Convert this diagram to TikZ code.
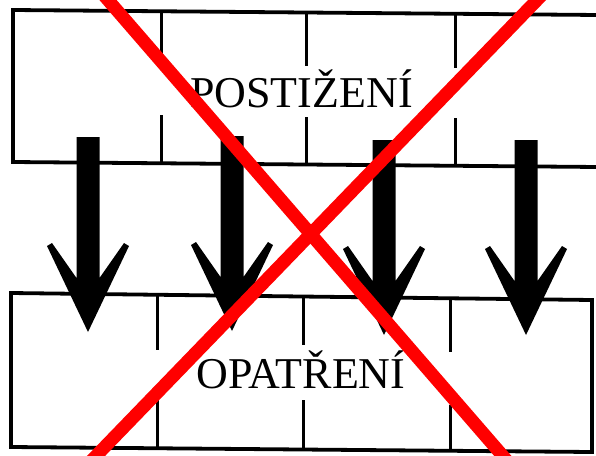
\documentclass[tikz,border=0pt]{standalone}
\usepackage{fontspec}
\setmainfont{Liberation Serif}
\begin{document}
\begin{tikzpicture}[x=1pt,y=-1pt,
  wall/.style={line width=3.8pt, black, line join=miter},
  joint/.style={line width=3pt, black},
  walltext/.style={font=\fontsize{44}{48}\selectfont, anchor=base, inner sep=0pt},
  cross/.style={line width=13pt, red},
  downarrow/.pic={\fill[black] (-11.5,-195) -- (-11.5,-54) -- (-36,-89) -- (-41,-86) -- (0,0)
     -- (41,-86) -- (36,-89) -- (11.5,-54) -- (11.5,-195) -- cycle;}]
\useasboundingbox (0,0) rectangle (596,455);
\fill[white] (0,0) rectangle (596,455);
% top wall
\draw[wall] (598,15) -- (13,10) -- (13,162) -- (598,167);
\draw[joint] (161,10) -- (161,54) (161,115) -- (161,163);
\draw[joint] (306,12) -- (306,66) (306,117) -- (306,165);
\draw[joint] (455,14) -- (455,68) (455,118) -- (455,166);
\node[walltext] (top) at (301.5,107) {POSTIŽENÍ};
% bottom wall
\draw[wall] (11,293) -- (592,300) -- (592,452) -- (11,447) -- cycle;
\draw[joint] (157,294) -- (157,350) (157,398) -- (157,448);
\draw[joint] (303,296) -- (303,345) (303,400) -- (303,449);
\draw[joint] (450,298) -- (450,352) (450,405) -- (450,450);
\node[walltext] (bottom) at (301,388) {OPATŘENÍ};
% arrows
\pic at (88,332) {downarrow};
\pic at (232,331) {downarrow};
\pic at (384,335) {downarrow};
\pic at (526,335) {downarrow};
% red cross
\begin{scope}
\clip (0,0) rectangle (596,455);
\draw[cross] (108-43.3,-50) -- (502+43.3,505);
\draw[cross] (537+48.4,-50) -- (97-48.4,505);
\end{scope}
\end{tikzpicture}
\end{document}
